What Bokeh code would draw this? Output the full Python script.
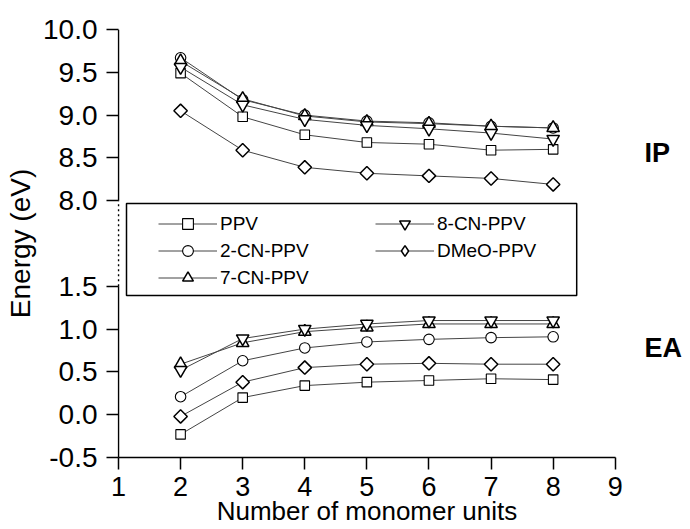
import numpy as np
from bokeh.plotting import figure
from bokeh.models import (Range1d, FixedTicker, Legend, LegendItem, BoxAnnotation,
                          LinearAxis)
from bokeh.embed import file_html
from bokeh.resources import INLINE

# ---------------- data ----------------
units = [2, 3, 4, 5, 6, 7, 8]
names = ["PPV", "2-CN-PPV", "7-CN-PPV", "8-CN-PPV", "DMeO-PPV"]

ip_ppv = [9.49, 8.98, 8.77, 8.68, 8.66, 8.59, 8.60]
ip_2cn = [9.67, 9.18, 9.00, 8.93, 8.91, 8.87, 8.85]
ip_7cn = [9.63, 9.19, 8.99, 8.92, 8.90, 8.87, 8.85]
ip_8cn = [9.56, 9.12, 8.95, 8.88, 8.84, 8.79, 8.72]
ip_dmeo = [9.05, 8.59, 8.39, 8.32, 8.29, 8.26, 8.19]

ea_ppv = [-0.23, 0.20, 0.34, 0.38, 0.40, 0.42, 0.41]
ea_2cn = [0.21, 0.63, 0.78, 0.85, 0.88, 0.90, 0.91]
ea_7cn = [0.59, 0.84, 0.97, 1.02, 1.06, 1.06, 1.06]
ea_8cn = [0.52, 0.89, 1.00, 1.06, 1.10, 1.10, 1.10]
ea_dmeo = [-0.02, 0.38, 0.55, 0.59, 0.60, 0.59, 0.59]

ea_ticks = [-0.5, 0.0, 0.5, 1.0, 1.5]
ip_ticks = [8.0, 8.5, 9.0, 9.5, 10.0]
x_ticks = [1, 2, 3, 4, 5, 6, 7, 8, 9]

ip_data = [ip_ppv, ip_2cn, ip_7cn, ip_8cn, ip_dmeo]
ea_data = [ea_ppv, ea_2cn, ea_7cn, ea_8cn, ea_dmeo]

# ---------------- styling ----------------
FONT = "Liberation Sans"
styles = [
    dict(marker="square", size=9.5, angle=0.0, lw=1.1, legend_marker="square"),
    dict(marker="circle", size=10.5, angle=0.0, lw=1.1, legend_marker="circle"),
    dict(marker="triangle", size=12.5, angle=0.0, lw=1.5, legend_marker="triangle"),
    dict(marker="inverted_triangle", size=12.5, angle=0.0, lw=1.5,
         legend_marker="inverted_triangle"),
    dict(marker="square", size=9.5, angle=np.pi / 4, lw=1.5, legend_marker="diamond"),
]
LINE_C = "#444444"

gap = 1.0
offset = ip_ticks[0] - (ea_ticks[-1] + gap)
y_lo = ea_ticks[0]
y_hi = ip_ticks[-1] - offset

# side labels (IP at 8.56 eV on the upper scale, EA at 0.78 eV on the lower scale)
side_label_pos = {0.78: "EA", 8.56 - offset: "IP"}

p = figure(width=690, height=529, output_backend="svg", toolbar_location=None,
           x_range=Range1d(0.984, 9.02), y_range=Range1d(y_lo, y_hi),
           min_border_left=117, min_border_right=74, min_border_top=29,
           min_border_bottom=72)
p.extra_y_ranges = {"ip": Range1d(y_lo + offset, y_hi + offset)}
p.outline_line_color = None
p.grid.visible = False
p.background_fill_color = "white"
p.border_fill_color = "white"

items = []
for name, ipv, eav, st in zip(names, ip_data, ea_data, styles):
    l1 = p.line(units, ipv, y_range_name="ip", line_color=LINE_C, line_width=1)
    m1 = p.scatter(units, ipv, y_range_name="ip", marker=st["marker"], size=st["size"],
                   angle=st["angle"], fill_color="white", line_color="black",
                   line_width=st["lw"])
    p.line(units, eav, line_color=LINE_C, line_width=1)
    p.scatter(units, eav, marker=st["marker"], size=st["size"], angle=st["angle"],
              fill_color="white", line_color="black", line_width=st["lw"])
    if st["legend_marker"] != st["marker"] or st["angle"] != 0.0:
        # legend-only sample glyph (a single NaN point, never drawn in the plot)
        m1 = p.scatter([np.nan], [np.nan], marker=st["legend_marker"], size=st["size"],
                       fill_color="white", line_color="black", line_width=st["lw"])
    items.append(LegendItem(label=name, renderers=[l1, m1]))

# broken y-axis line
p.line([1, 1], [ea_ticks[0], ea_ticks[-1]], line_color="black", line_width=1.5)
p.line([1, 1], [ea_ticks[-1], ea_ticks[-1] + gap], line_color="black",
       line_width=1.5, line_dash="2 3")
p.line([1, 1], [ip_ticks[0], ip_ticks[-1]], y_range_name="ip", line_color="black",
       line_width=1.5)

# left y axis
yax = p.yaxis[0]
yax.ticker = FixedTicker(ticks=ea_ticks + [t - offset for t in ip_ticks], minor_ticks=[])
ov = {t: f"{t:.1f}" for t in ea_ticks}
ov.update({t - offset: f"{t:.1f}" for t in ip_ticks})
yax.major_label_overrides = ov
yax.axis_line_color = None
yax.major_tick_out = 11
yax.major_tick_in = 1
yax.major_tick_line_width = 1.5
yax.major_tick_line_color = "black"
yax.minor_tick_line_color = None
yax.major_label_text_font = FONT
yax.major_label_text_font_size = "28px"
yax.major_label_text_color = "black"
yax.major_label_standoff = 9
yax.axis_label = "Energy (eV)"
yax.axis_label_text_font = FONT
yax.axis_label_text_font_size = "28px"
yax.axis_label_text_font_style = "normal"
yax.axis_label_text_color = "black"
yax.axis_label_standoff = 4

# right axis carrying only the IP / EA tags
rax = LinearAxis(ticker=FixedTicker(ticks=sorted(side_label_pos), minor_ticks=[]),
                 major_label_overrides=side_label_pos)
rax.axis_line_color = None
rax.major_tick_line_color = None
rax.minor_tick_line_color = None
rax.major_label_text_font = FONT
rax.major_label_text_font_style = "bold"
rax.major_label_text_font_size = "27px"
rax.major_label_text_color = "black"
rax.major_label_standoff = 22
p.add_layout(rax, "right")

# x axis
xax = p.xaxis[0]
xax.ticker = FixedTicker(ticks=x_ticks, minor_ticks=[])
xax.bounds = (x_ticks[0], x_ticks[-1])
xax.axis_line_width = 1.5
xax.axis_line_color = "black"
xax.major_tick_out = 12
xax.major_tick_in = 0
xax.major_tick_line_width = 1.5
xax.major_tick_line_color = "black"
xax.minor_tick_line_color = None
xax.major_label_text_font = FONT
xax.major_label_text_font_size = "27px"
xax.major_label_text_color = "black"
xax.major_label_standoff = 7
xax.axis_label = "Number of monomer units"
xax.axis_label_text_font = FONT
xax.axis_label_text_font_size = "26px"
xax.axis_label_text_font_style = "normal"
xax.axis_label_text_color = "black"
xax.axis_label_standoff = -3

# legend frame
p.add_layout(BoxAnnotation(left=1.129, right=8.379, bottom=1.393, top=2.467,
                           fill_color=None, fill_alpha=0, line_color="black",
                           line_alpha=1.0, line_width=1.5))

legend = Legend(items=items, location=(41, 166), orientation="vertical", ncols=2,
                padding=0, margin=0, spacing=0, glyph_width=59, glyph_height=27,
                label_height=27, label_width=155, label_standoff=3,
                border_line_color=None, background_fill_alpha=0,
                label_text_font=FONT, label_text_font_size="19px",
                label_text_color="black")
p.add_layout(legend)

open("out.html", "w").write(file_html(p, INLINE))
